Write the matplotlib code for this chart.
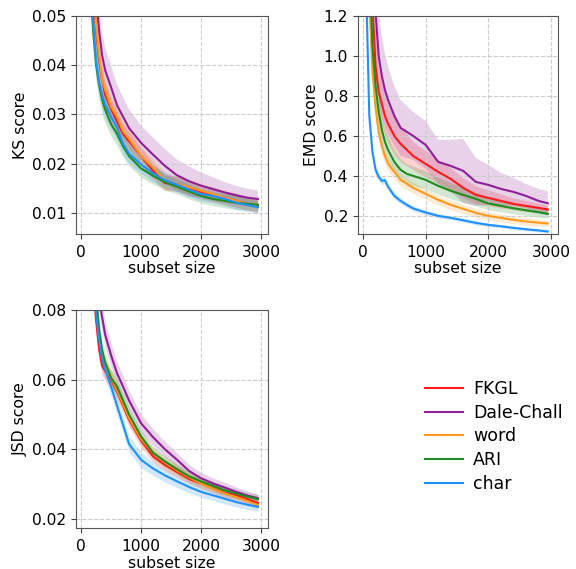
import matplotlib
matplotlib.use("Agg")
import matplotlib.pyplot as plt
import numpy as np

subset = [50, 100, 150, 200, 250, 300, 350, 400, 500, 600, 700, 800, 1000,
          1200, 1400, 1600, 1800, 2000, 2200, 2400, 2600, 2800, 2950]

names = ["FKGL", "Dale-Chall", "word", "ARI", "char"]
colors = ["#ff1a1a", "#8e1f96", "#ff9a1f", "#1f8c1f", "#1e90ff"]

# KS score (mean and spread per method)
ks_fkgl = [0.12, 0.082, 0.066, 0.055, 0.047, 0.041, 0.037, 0.034, 0.031, 0.0285, 0.026, 0.0245,
           0.0215, 0.0185, 0.016, 0.0158, 0.015, 0.0142, 0.0136, 0.013, 0.0124, 0.0117, 0.0113]
ks_dale = [0.13, 0.095, 0.078, 0.064, 0.054, 0.047, 0.042, 0.039, 0.0355, 0.0318, 0.0295, 0.0272,
           0.0242, 0.0218, 0.0195, 0.0176, 0.0164, 0.0155, 0.0148, 0.0141, 0.0135, 0.013, 0.0128]
ks_word = [0.12, 0.088, 0.07, 0.057, 0.048, 0.042, 0.037, 0.035, 0.0315, 0.0295, 0.0265, 0.025,
           0.0215, 0.0192, 0.0165, 0.0158, 0.0152, 0.0145, 0.0138, 0.013, 0.0124, 0.0117, 0.0112]
ks_ari = [0.11, 0.072, 0.057, 0.047, 0.04, 0.036, 0.033, 0.031, 0.028, 0.026, 0.0235, 0.0215,
          0.019, 0.0175, 0.0162, 0.0153, 0.0143, 0.0134, 0.0128, 0.0124, 0.012, 0.0118, 0.0116]
ks_char = [0.11, 0.075, 0.06, 0.049, 0.041, 0.0365, 0.034, 0.032, 0.0295, 0.0272, 0.024, 0.022,
           0.0198, 0.018, 0.0166, 0.0157, 0.0147, 0.0138, 0.0134, 0.0128, 0.012, 0.0115, 0.0111]
ks_sd_dale = [0.008, 0.007, 0.0065, 0.006, 0.0055, 0.005, 0.0048, 0.0046, 0.0044, 0.0042, 0.004, 0.0038,
              0.0035, 0.0035, 0.0034, 0.0032, 0.003, 0.0027, 0.0024, 0.0021, 0.0019, 0.0018, 0.0017]
ks_sd_other = [0.007, 0.006, 0.005, 0.004, 0.0035, 0.003, 0.003, 0.0028, 0.0025, 0.0024, 0.0022, 0.002,
               0.0018, 0.0017, 0.0016, 0.0015, 0.0015, 0.0014, 0.0014, 0.0014, 0.0014, 0.0013, 0.0013]

# EMD score
emd_fkgl = [2.5, 1.7, 1.25, 0.95, 0.82, 0.76, 0.7, 0.66, 0.6, 0.56, 0.53, 0.5, 0.46,
            0.42, 0.385, 0.34, 0.305, 0.29, 0.275, 0.26, 0.25, 0.24, 0.232]
emd_dale = [3.0, 2.0, 1.5, 1.22, 1.0, 0.9, 0.83, 0.78, 0.7, 0.64, 0.62, 0.6, 0.555,
            0.47, 0.45, 0.425, 0.37, 0.355, 0.335, 0.32, 0.3, 0.275, 0.263]
emd_word = [2.0, 1.3, 0.92, 0.74, 0.62, 0.55, 0.5, 0.46, 0.42, 0.38, 0.36, 0.34, 0.31,
            0.28, 0.255, 0.235, 0.215, 0.2, 0.19, 0.18, 0.172, 0.166, 0.162]
emd_ari = [2.3, 1.5, 1.05, 0.85, 0.72, 0.63, 0.57, 0.53, 0.47, 0.43, 0.41, 0.4, 0.38,
           0.35, 0.325, 0.305, 0.285, 0.262, 0.25, 0.238, 0.228, 0.218, 0.21]
emd_char = [1.35, 0.7, 0.52, 0.43, 0.395, 0.375, 0.378, 0.345, 0.3, 0.275, 0.255, 0.237, 0.217,
            0.2, 0.19, 0.178, 0.165, 0.155, 0.148, 0.14, 0.133, 0.127, 0.122]
emd_sd_fkgl = [0.3, 0.2, 0.16, 0.14, 0.12, 0.11, 0.1, 0.1, 0.095, 0.09, 0.08, 0.07, 0.065,
               0.06, 0.055, 0.05, 0.045, 0.04, 0.035, 0.03, 0.027, 0.024, 0.022]
emd_sd_dale = [0.5, 0.4, 0.3, 0.25, 0.22, 0.2, 0.18, 0.17, 0.15, 0.14, 0.13, 0.12, 0.12,
               0.11, 0.13, 0.16, 0.12, 0.1, 0.08, 0.07, 0.06, 0.06, 0.06]
emd_sd_word = [0.2, 0.12, 0.08, 0.06, 0.05, 0.045, 0.04, 0.038, 0.035, 0.032, 0.03, 0.028, 0.026,
               0.025, 0.024, 0.023, 0.022, 0.021, 0.02, 0.019, 0.018, 0.017, 0.016]
emd_sd_ari = [0.25, 0.18, 0.13, 0.1, 0.085, 0.075, 0.07, 0.065, 0.06, 0.055, 0.05, 0.048, 0.045,
              0.042, 0.04, 0.038, 0.035, 0.032, 0.03, 0.028, 0.026, 0.024, 0.022]
emd_sd_char = [0.1, 0.05, 0.03, 0.025, 0.02, 0.02, 0.018, 0.017, 0.016, 0.015, 0.014, 0.013, 0.012,
               0.011, 0.01, 0.01, 0.009, 0.009, 0.008, 0.008, 0.008, 0.007, 0.007]

# JSD score
jsd_fkgl = [0.15, 0.12, 0.1, 0.087, 0.077, 0.0688, 0.064, 0.0625, 0.06, 0.0565, 0.0525, 0.0485,
            0.0425, 0.038, 0.0355, 0.0335, 0.0315, 0.0302, 0.0288, 0.0275, 0.0268, 0.0255, 0.0246]
jsd_dale = [0.17, 0.14, 0.118, 0.103, 0.092, 0.083, 0.078, 0.073, 0.067, 0.0618, 0.058, 0.054,
            0.0475, 0.0435, 0.04, 0.037, 0.0338, 0.0317, 0.0302, 0.029, 0.0277, 0.0266, 0.026]
jsd_word = [0.16, 0.125, 0.105, 0.092, 0.082, 0.074, 0.067, 0.0635, 0.0605, 0.057, 0.053, 0.049,
            0.043, 0.039, 0.0362, 0.034, 0.032, 0.0302, 0.0287, 0.0273, 0.0262, 0.025, 0.024]
jsd_ari = [0.16, 0.13, 0.108, 0.094, 0.084, 0.0743, 0.0685, 0.065, 0.0605, 0.058, 0.054, 0.05,
           0.0437, 0.039, 0.0365, 0.0343, 0.0322, 0.0308, 0.0295, 0.0282, 0.0272, 0.0263, 0.0257]
jsd_char = [0.14, 0.115, 0.098, 0.087, 0.079, 0.0715, 0.066, 0.063, 0.058, 0.0525, 0.047, 0.0415,
            0.037, 0.0345, 0.0325, 0.0308, 0.0292, 0.0278, 0.0268, 0.0258, 0.0248, 0.024, 0.0235]
jsd_sd_dale = [0.01, 0.008, 0.006, 0.005, 0.0045, 0.004, 0.0038, 0.0036, 0.0034, 0.0032, 0.003, 0.0028,
               0.0026, 0.0024, 0.0022, 0.002, 0.0018, 0.0017, 0.0016, 0.0015, 0.0014, 0.0013, 0.0012]
jsd_sd_char = [0.008, 0.006, 0.005, 0.004, 0.0035, 0.003, 0.003, 0.0028, 0.0026, 0.0025, 0.0024, 0.0023,
               0.0022, 0.002, 0.0019, 0.0018, 0.0017, 0.0016, 0.0015, 0.0015, 0.0014, 0.0014, 0.0013]
jsd_sd_other = [0.008, 0.006, 0.005, 0.004, 0.0035, 0.003, 0.0028, 0.0026, 0.0024, 0.0022, 0.002, 0.0019,
                0.0018, 0.0017, 0.0016, 0.0015, 0.0014, 0.0014, 0.0013, 0.0013, 0.0013, 0.0013, 0.0013]

panels = [
    ("KS score", [ks_fkgl, ks_dale, ks_word, ks_ari, ks_char],
     [ks_sd_other, ks_sd_dale, ks_sd_other, ks_sd_other, ks_sd_other],
     (0.0057, 0.05), [0.01, 0.02, 0.03, 0.04, 0.05], "{:.2f}"),
    ("EMD score", [emd_fkgl, emd_dale, emd_word, emd_ari, emd_char],
     [emd_sd_fkgl, emd_sd_dale, emd_sd_word, emd_sd_ari, emd_sd_char],
     (0.11, 1.2), [0.2, 0.4, 0.6, 0.8, 1.0, 1.2], "{:.1f}"),
    ("JSD score", [jsd_fkgl, jsd_dale, jsd_word, jsd_ari, jsd_char],
     [jsd_sd_other, jsd_sd_dale, jsd_sd_other, jsd_sd_other, jsd_sd_char],
     (0.0174, 0.08), [0.02, 0.04, 0.06, 0.08], "{:.2f}"),
]

boxes = [[0.132, 0.589, 0.333, 0.383],
         [0.621, 0.589, 0.348, 0.383],
         [0.132, 0.072, 0.333, 0.383]]

fig = plt.figure(figsize=(5.76, 5.69), dpi=100)
x = np.array(subset)
handles = []
for box, (ylabel, means, sds, ylim, yticks, fmt) in zip(boxes, panels):
    ax = fig.add_axes(box)
    for m, s, c, n in zip(means, sds, colors, names):
        m = np.array(m)
        s = np.array(s)
        ax.fill_between(x, m - s, m + s, color=c, alpha=0.2, linewidth=0)
        line, = ax.plot(x, m, color=c, lw=1.5, label=n)
        if len(handles) < len(names):
            handles.append(line)
    ax.set_xlim(-85, 3115)
    ax.set_ylim(*ylim)
    ax.set_xticks([0, 1000, 2000, 3000])
    ax.set_yticks(yticks)
    ax.set_yticklabels([fmt.format(v) for v in yticks])
    ax.grid(True, linestyle="--", color="#cccccc", linewidth=0.8)
    ax.set_xlabel("subset size", fontsize=11.3, labelpad=1)
    ax.set_ylabel(ylabel, fontsize=11.3, labelpad=3)
    ax.tick_params(labelsize=11.2, color="#444444")
    ax.tick_params(axis="x", pad=4.5)
    for sp in ax.spines.values():
        sp.set_color("#555555")

fig.legend(handles=handles, labels=names, loc="center left",
           bbox_to_anchor=(0.713, 0.233), frameon=False, fontsize=12.5,
           handlelength=2.2, handletextpad=0.6, labelspacing=0.33,
           borderpad=0.3)

plt.savefig("out.png", dpi=100)
plt.close()
